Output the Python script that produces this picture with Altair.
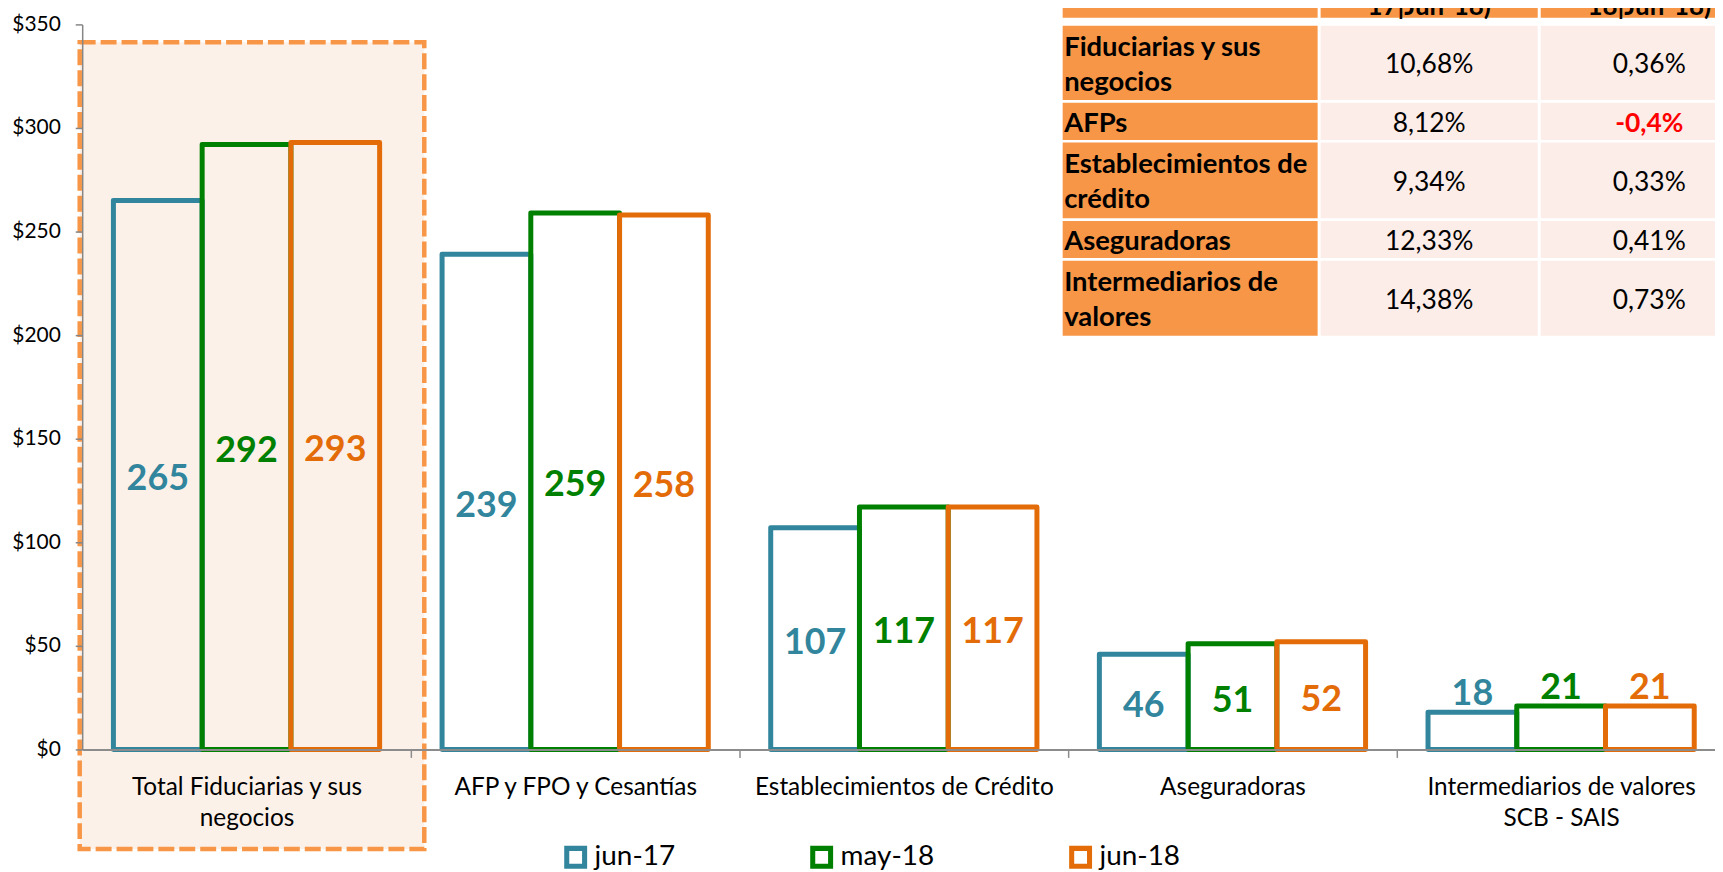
import altair as alt
import pandas as pd

# ---------------- data ----------------
categories = [
    "Total Fiduciarias y sus negocios",
    "AFP y FPO y Cesantías",
    "Establecimientos de Crédito",
    "Aseguradoras",
    "Intermediarios de valores SCB - SAIS",
]
series_names = ["jun-17", "may-18", "jun-18"]
values_jun17 = [265, 239, 107, 46, 18]
values_may18 = [292, 259, 117, 51, 21]
values_jun18 = [293, 258, 117, 52, 21]
series_colors = ["#31859C", "#008000", "#E36C09"]

table_header = ["17|Jun-18)", "18|Jun-18)"]
table_rows = [
    ["Fiduciarias y sus", "negocios"],
    ["AFPs"],
    ["Establecimientos de", "crédito"],
    ["Aseguradoras"],
    ["Intermediarios de", "valores"],
]
var_annual = ["10,68%", "8,12%", "9,34%", "12,33%", "14,38%"]
var_monthly = ["0,36%", "-0,4%", "0,33%", "0,41%", "0,73%"]

# ---------------- layout constants ----------------
FONT = "Lato"
PAD_LEFT, PAD_TOP = 74.5, 14.7
VIEW_W, VIEW_H = 1650, 728          # plot area runs past the right edge (as in the reference)
SVG_W = 1714
STEP = VIEW_W / 5
PAD_BOTTOM = 864 - PAD_TOP - VIEW_H
PAD_RIGHT = SVG_W - PAD_LEFT - VIEW_W

ORANGE = "#F79646"
CELL = "#FCEDE9"
BOX_FILL = "#FCF1E9"
NAME_LH = 35

# hollow square legend glyph
HOLLOW_SQUARE = "M-1,-1H1V1H-1Z M-0.56,-0.56V0.56H0.56V-0.56Z"

# table geometry (view coordinates)
col_edges = [(984.5, 1240.5), (1243.5, 1461.5), (1464.5, 1682.5)]
row_edges = [(-22.7, -6.7), (1.3, 76.0), (78.6, 116.0), (118.6, 194.6), (197.3, 234.6), (237.3, 312.6)]

# ---------------- tables built from arrays ----------------
bars_rows = []
for s, vals in zip(series_names, [values_jun17, values_may18, values_jun18]):
    for c, v in zip(categories, vals):
        bars_rows.append({"category": c, "series": s, "value": v})
bars_df = pd.DataFrame(bars_rows)

rect_rows = []
for ri, (y0, y1) in enumerate(row_edges):
    for ci, (x0, x1) in enumerate(col_edges):
        fill = ORANGE if (ri == 0 or ci == 0) else CELL
        rect_rows.append({"x0": x0, "x1": x1, "y0": y0, "y1": y1, "fill": fill})
rect_df = pd.DataFrame(rect_rows)

name_rows, val_rows, neg_rows = [], [], []
for i, (name, a, m) in enumerate(zip(table_rows, var_annual, var_monthly)):
    y0, y1 = row_edges[i + 1]
    yc = (y0 + y1) / 2 + 2.5
    name_rows.append({"x": col_edges[0][0] + 1.5, "y": yc - (len(name) - 1) * NAME_LH / 2, "text": name})
    val_rows.append({"x": sum(col_edges[1]) / 2, "y": yc, "text": a})
    target = neg_rows if m.startswith("-") else val_rows
    target.append({"x": sum(col_edges[2]) / 2, "y": yc, "text": m})
name_df = pd.DataFrame(name_rows)
val_df = pd.DataFrame(val_rows)
neg_df = pd.DataFrame(neg_rows)
head_df = pd.DataFrame({
    "x": [sum(col_edges[1]) / 2, sum(col_edges[2]) / 2],
    "y": [row_edges[0][1] - 3, row_edges[0][1] - 3],
    "text": table_header,
})

# ---------------- encodings ----------------
label_expr = (
    "datum.value == 'Total Fiduciarias y sus negocios' ? ['Total Fiduciarias y sus', 'negocios'] : "
    "datum.value == 'Intermediarios de valores SCB - SAIS' ? ['Intermediarios de valores', 'SCB - SAIS'] : datum.label"
)
x_axis = alt.Axis(
    title=None, labelExpr=label_expr, labelFont=FONT, labelFontSize=24.5, labelColor="#000000",
    labelLineHeight=31, labelPadding=18, labelAngle=0, labelLimit=500,
    tickOffset=STEP / 2, labelOffset=-STEP / 2, tickSize=8, tickColor="#8C8C8C", tickWidth=1.5,
    domainColor="#8C8C8C", domainWidth=2, zindex=1,
)
x_scale = alt.Scale(paddingInner=0.19, paddingOuter=0.095, round=False)
y_axis = alt.Axis(
    title=None, values=[0, 50, 100, 150, 200, 250, 300, 350], labelExpr="'$' + datum.label",
    labelFont=FONT, labelFontSize=21, labelColor="#000000", labelPadding=15,
    tickSize=7, tickColor="#868686", tickWidth=1.5, domainColor="#868686", domainWidth=1.5,
    grid=False, zindex=1,
)
y_scale = alt.Scale(domain=[0, 350], nice=False)


def xenc():
    return alt.X("category:N", sort=categories, scale=x_scale, axis=x_axis)


def xoff():
    return alt.XOffset("series:N", sort=series_names, scale=alt.Scale(paddingInner=0, paddingOuter=0))


color_scale = alt.Scale(domain=series_names, range=series_colors)

base = alt.Chart(bars_df)

box = alt.Chart(pd.DataFrame({"k": [0]})).mark_rect(
    fill=BOX_FILL, stroke=ORANGE, strokeWidth=4.5, strokeDash=[16, 5]
).encode(x=alt.value(-2.5), x2=alt.value(343.5), y=alt.value(18), y2=alt.value(828))

bars = base.mark_bar(filled=False, strokeWidth=5, strokeJoin="round").encode(
    x=xenc(),
    xOffset=xoff(),
    y=alt.Y("value:Q", scale=y_scale, axis=y_axis),
    color=alt.Color(
        "series:N", sort=series_names, scale=color_scale,
        legend=alt.Legend(
            title=None, orient="none", legendX=556 - PAD_LEFT, legendY=837 - PAD_TOP,
            direction="horizontal", columns=3, symbolType=HOLLOW_SQUARE, symbolSize=529,
            symbolStrokeWidth=0, symbolOpacity=1,
            labelFont=FONT, labelFontSize=28, labelColor="#000000", labelOffset=5,
            columnPadding=133, padding=0,
        ),
    ),
)

labels_mid = base.transform_filter(
    alt.datum.category != categories[4]
).transform_calculate(mid="datum.value / 2").mark_text(
    font=FONT, fontWeight="bold", fontSize=36, baseline="middle", dy=4
).encode(
    x=xenc(), xOffset=xoff(),
    y=alt.Y("mid:Q", scale=y_scale, axis=y_axis),
    text=alt.Text("value:Q"),
    color=alt.Color("series:N", sort=series_names, scale=color_scale, legend=None),
)

labels_top = base.transform_filter(
    alt.datum.category == categories[4]
).mark_text(font=FONT, fontWeight="bold", fontSize=36, baseline="alphabetic", dy=-7).encode(
    x=xenc(), xOffset=xoff(),
    y=alt.Y("value:Q", scale=y_scale, axis=y_axis),
    text=alt.Text("value:Q"),
    color=alt.Color("series:N", sort=series_names, scale=color_scale, legend=None),
)

main = alt.layer(box, bars, labels_mid, labels_top)

tx = dict(scale=None, axis=None)
t_rects = alt.Chart(rect_df).mark_rect().encode(
    x=alt.X("x0:Q", **tx), x2="x1:Q", y=alt.Y("y0:Q", **tx), y2="y1:Q",
    fill=alt.Fill("fill:N", scale=None),
)
t_names = alt.Chart(name_df).mark_text(
    font=FONT, fontWeight="bold", fontSize=27.5, align="left", baseline="middle",
    lineHeight=NAME_LH, color="#000000"
).encode(x=alt.X("x:Q", **tx), y=alt.Y("y:Q", **tx), text="text")
t_vals = alt.Chart(val_df).mark_text(
    font=FONT, fontSize=26.5, align="center", baseline="middle", color="#000000"
).encode(x=alt.X("x:Q", **tx), y=alt.Y("y:Q", **tx), text="text:N")
t_neg = alt.Chart(neg_df).mark_text(
    font=FONT, fontWeight="bold", fontSize=26.5, align="center", baseline="middle", color="#FF0000"
).encode(x=alt.X("x:Q", **tx), y=alt.Y("y:Q", **tx), text="text:N")
t_head = alt.Chart(head_df).mark_text(
    font=FONT, fontWeight="bold", fontSize=26, align="center", baseline="alphabetic", color="#000000"
).encode(x=alt.X("x:Q", **tx), y=alt.Y("y:Q", **tx), text="text:N")

table = alt.layer(t_rects, t_names, t_vals, t_neg, t_head)

chart = alt.layer(main, table).resolve_scale(x="independent", y="independent").properties(
    width=VIEW_W, height=VIEW_H,
    autosize=alt.AutoSizeParams(type="none"),
    padding={"left": PAD_LEFT, "top": PAD_TOP, "right": PAD_RIGHT, "bottom": PAD_BOTTOM},
    background="white",
).configure_view(stroke=None)

chart.save("out.html", embed_options={"renderer": "svg", "actions": False})
